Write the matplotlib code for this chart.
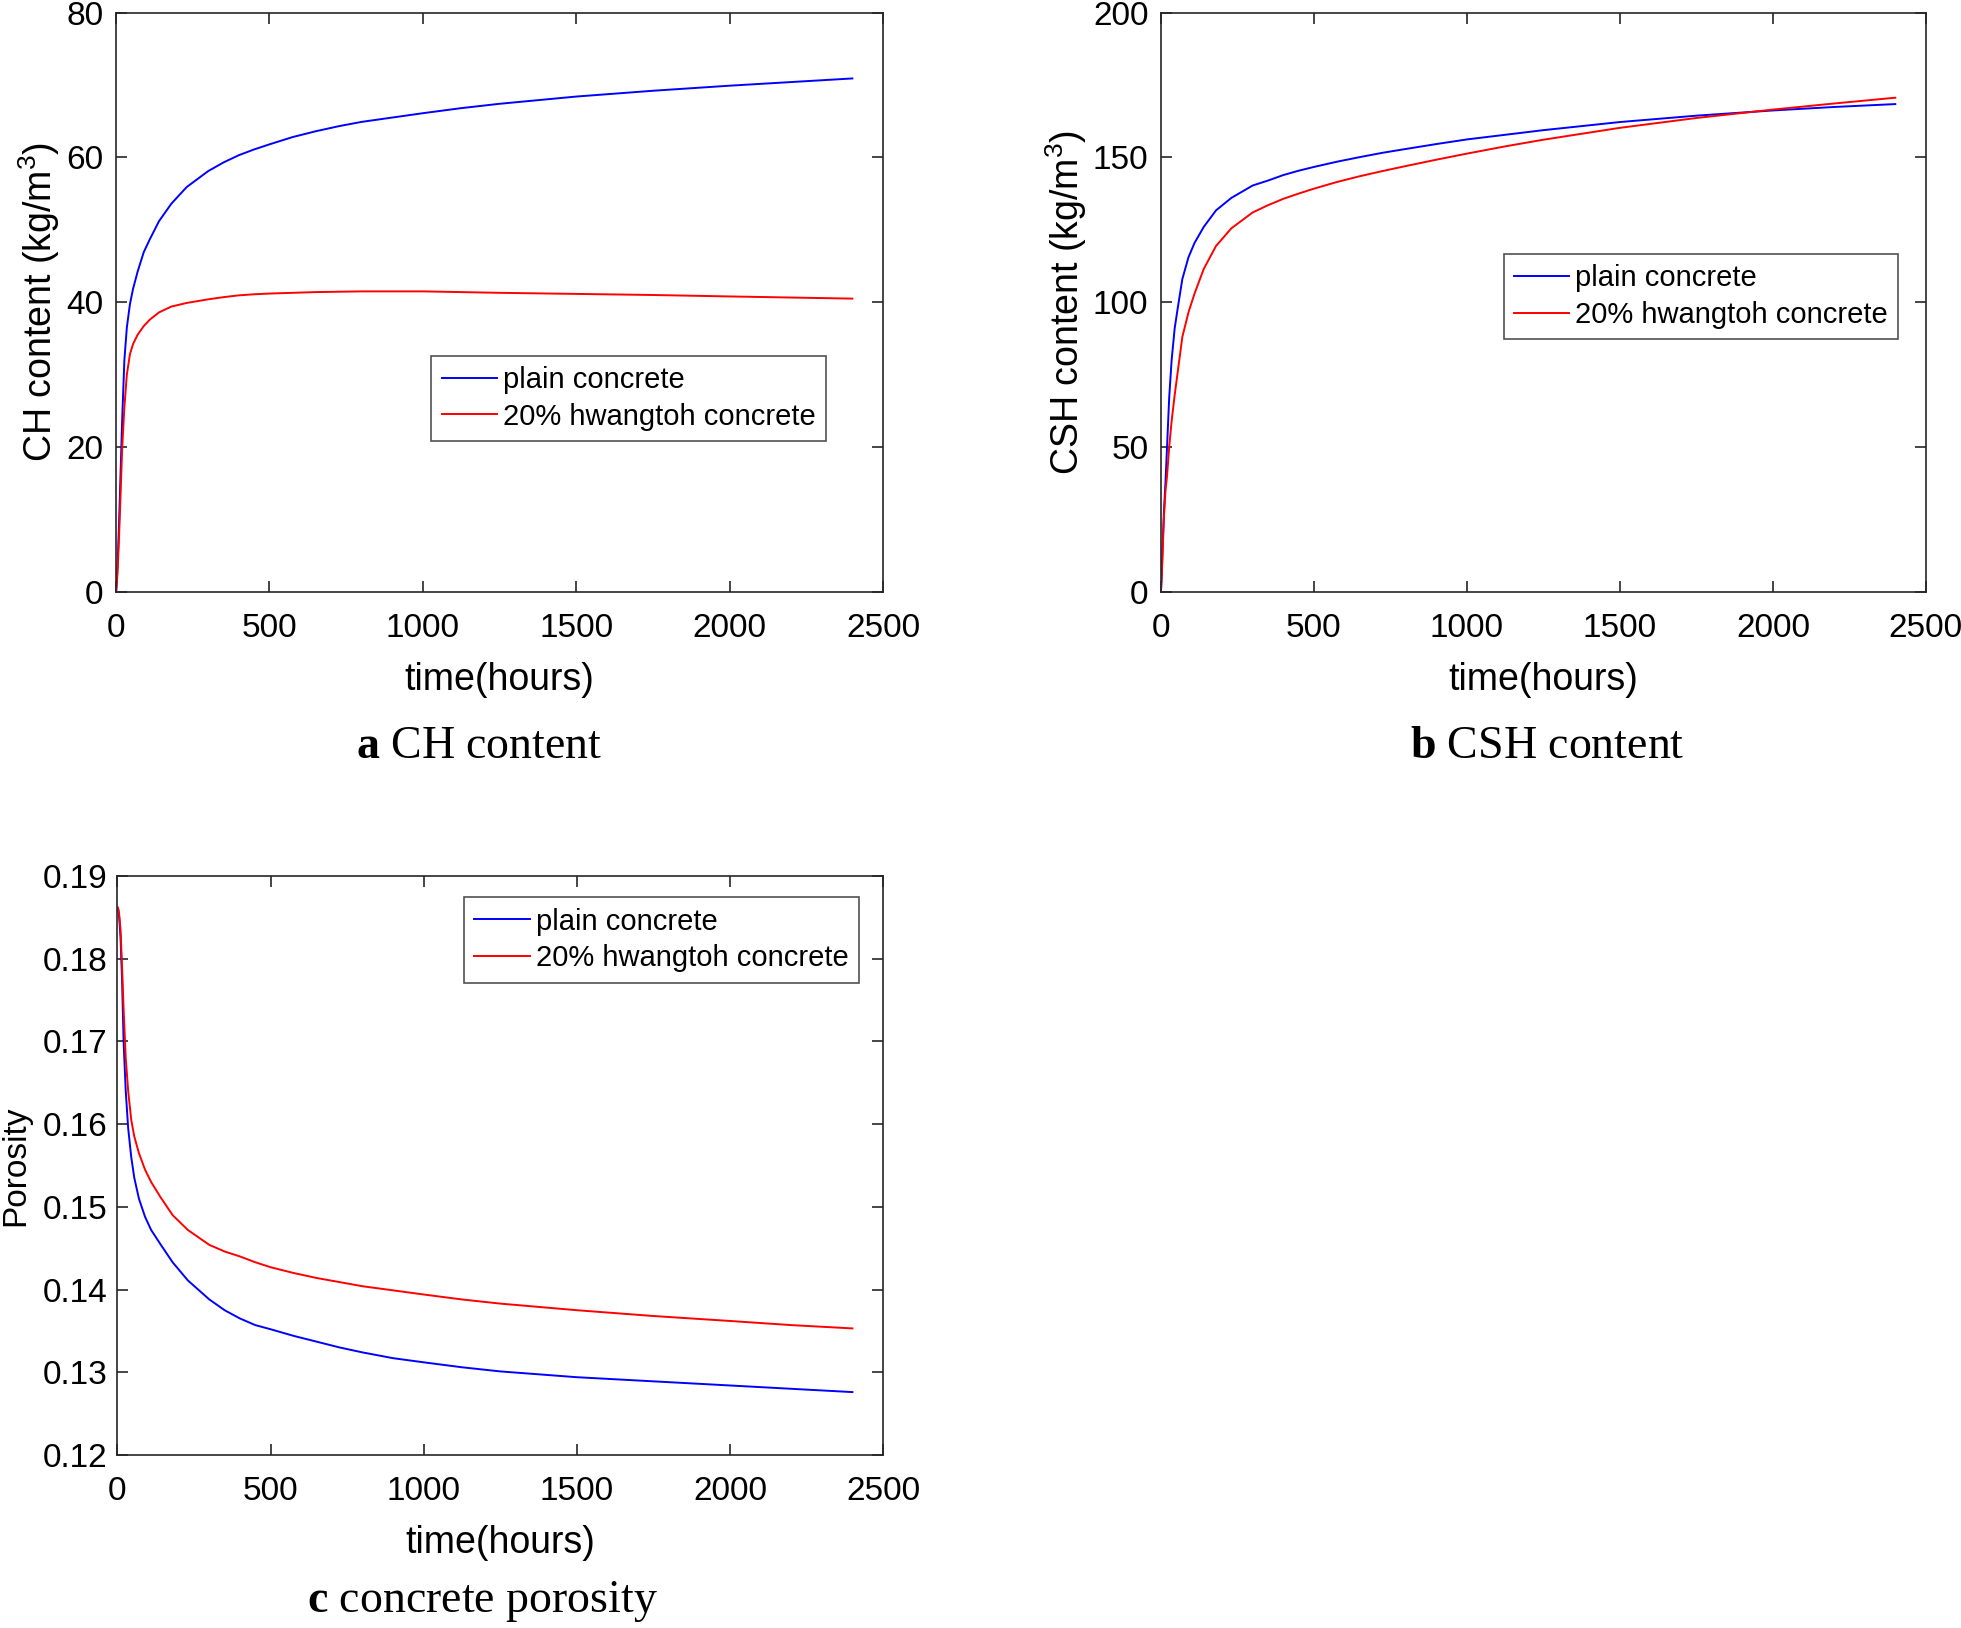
import numpy as np
import matplotlib.pyplot as plt

plt.rcParams['font.family'] = ['Liberation Sans', 'DejaVu Sans']
plt.rcParams['mathtext.fontset'] = 'custom'
plt.rcParams['mathtext.default'] = 'rm'
plt.rcParams['mathtext.rm'] = 'Liberation Sans'
plt.rcParams['mathtext.bf'] = 'Liberation Serif:bold'

# time (hours) sample points
t = [0, 3, 6, 10, 15, 20, 27, 35, 45, 55,
     70, 90, 110, 140, 180, 230, 300, 350, 400, 450,
     500, 575, 650, 725, 800, 900, 1000, 1125, 1250, 1500,
     1750, 2000, 2200, 2400]

# a: CH content (kg/m3)
ch_plain = [0, 2, 5, 10, 17, 24, 32, 36.5, 39.7, 41.8,
            44.2, 46.9, 48.7, 51.2, 53.6, 55.9, 58.1, 59.3, 60.3, 61.1,
            61.8, 62.8, 63.6, 64.3, 64.9, 65.5, 66.1, 66.8, 67.4, 68.4,
            69.2, 69.9, 70.4, 70.9]
ch_hw = [0, 1.5, 4, 8, 14, 20, 25.5, 30, 32.8, 34.2,
         35.5, 36.7, 37.6, 38.6, 39.4, 39.9, 40.4, 40.7, 40.95, 41.1,
         41.2, 41.3, 41.4, 41.45, 41.5, 41.5, 41.5, 41.4, 41.3, 41.15,
         41.0, 40.8, 40.65, 40.5]

# b: CSH content (kg/m3)
csh_plain = [0, 7, 17, 28, 38, 50, 67, 80, 91, 98,
             108, 115.5, 120.5, 126, 131.7, 136, 140.3, 142, 143.9, 145.4,
             146.7, 148.5, 150.1, 151.6, 152.9, 154.6, 156.2, 157.8, 159.4, 162.2,
             164.4, 166.2, 167.4, 168.4]
csh_hw = [0, 6, 15, 26, 35, 40, 50, 59, 68, 76,
          88, 96.5, 103, 111.5, 119.4, 125.5, 131, 133.5, 135.7, 137.5,
          139.2, 141.5, 143.5, 145.3, 147.0, 149.2, 151.3, 153.8, 156.1, 160.2,
          163.6, 166.5, 168.6, 170.6]

# c: porosity
por_plain = [0.1862, 0.1858, 0.1848, 0.1826, 0.1775, 0.1700, 0.1640, 0.1595, 0.1560, 0.1535,
             0.1510, 0.1488, 0.1472, 0.1455, 0.1433, 0.1411, 0.1388, 0.1375, 0.1365, 0.1357,
             0.1352, 0.1344, 0.1337, 0.1330, 0.1324, 0.1317, 0.1312, 0.1306, 0.1301, 0.1294,
             0.1289, 0.1284, 0.1280, 0.1276]
por_hw = [0.1862, 0.1860, 0.1852, 0.1835, 0.1790, 0.1740, 0.1680, 0.1640, 0.1605, 0.1585,
          0.1565, 0.1545, 0.1530, 0.1512, 0.1490, 0.1472, 0.1454, 0.1446, 0.1440, 0.1433,
          0.1427, 0.1420, 0.1414, 0.1409, 0.1404, 0.1399, 0.1394, 0.1388, 0.1383, 0.1375,
          0.1368, 0.1362, 0.1357, 0.1353]

labels = ['plain concrete', '20% hwangtoh concrete']
xticks = [0, 500, 1000, 1500, 2000, 2500]

fig = plt.figure(figsize=(19.61, 16.28), dpi=100)

ax_a = fig.add_axes([0.0592, 0.6364, 0.3911, 0.3559])
ax_b = fig.add_axes([0.5920, 0.6364, 0.3901, 0.3559])
ax_c = fig.add_axes([0.0599, 0.1063, 0.3904, 0.3556])

panels = [
    (ax_a, ch_plain, ch_hw, (0, 80), [0, 20, 40, 60, 80], 'CH content (kg/m$^3$)',
     (0.411, 0.408)),
    (ax_b, csh_plain, csh_hw, (0, 200), [0, 50, 100, 150, 200], 'CSH content (kg/m$^3$)',
     (0.448, 0.583)),
    (ax_c, por_plain, por_hw, (0.12, 0.19), [0.12, 0.13, 0.14, 0.15, 0.16, 0.17, 0.18, 0.19],
     'Porosity', (0.453, 0.963)),
]

for ax, yp, yh, ylim, yticks, ylab, lpos in panels:
    ax.plot(t, yp, color='#0000ff', lw=1.4, label=labels[0])
    ax.plot(t, yh, color='#ff0000', lw=1.4, label=labels[1])
    ax.set_xlim(0, 2500)
    ax.set_ylim(*ylim)
    ax.set_xticks(xticks)
    ax.set_yticks(yticks)
    if ylim[1] < 1:
        ax.set_yticklabels(['%.2f' % v for v in yticks])
    ax.tick_params(direction='in', top=True, right=True, length=8, width=1.2,
                   labelsize=24, colors='#262626', labelcolor='black')
    ax.tick_params(axis='x', pad=15)
    ax.tick_params(axis='y', pad=9)
    for s in ax.spines.values():
        s.set_linewidth(1.2)
        s.set_color('#262626')
    ax.set_xlabel('time(hours)', fontsize=27, labelpad=13)
    ax.set_ylabel(ylab, fontsize=27, labelpad=3)
    leg = ax.legend(loc='upper left', bbox_to_anchor=lpos, fontsize=21,
                    frameon=True, fancybox=False, handlelength=1.9, handletextpad=0.2,
                    borderpad=0.35, labelspacing=0.3, borderaxespad=0)
    leg.get_frame().set_edgecolor('#262626')
    leg.get_frame().set_linewidth(1.2)

# porosity label sits right at the figure edge in the original
ax_c.tick_params(axis='y', pad=7)
ax_c.yaxis.label.set_fontsize(24)
ax_c.yaxis.set_label_coords(-0.112, 0.5)

cap = dict(fontsize=33, family='Liberation Serif', ha='center', va='center')
fig.text(0.2443, 0.5415, r'$\mathbf{a}$ CH content', **cap)
fig.text(0.7890, 0.5415, r'$\mathbf{b}$ CSH content', **cap)
fig.text(0.2460, 0.0160, r'$\mathbf{c}$ concrete porosity', **cap)

plt.savefig('out.png', dpi=100)
